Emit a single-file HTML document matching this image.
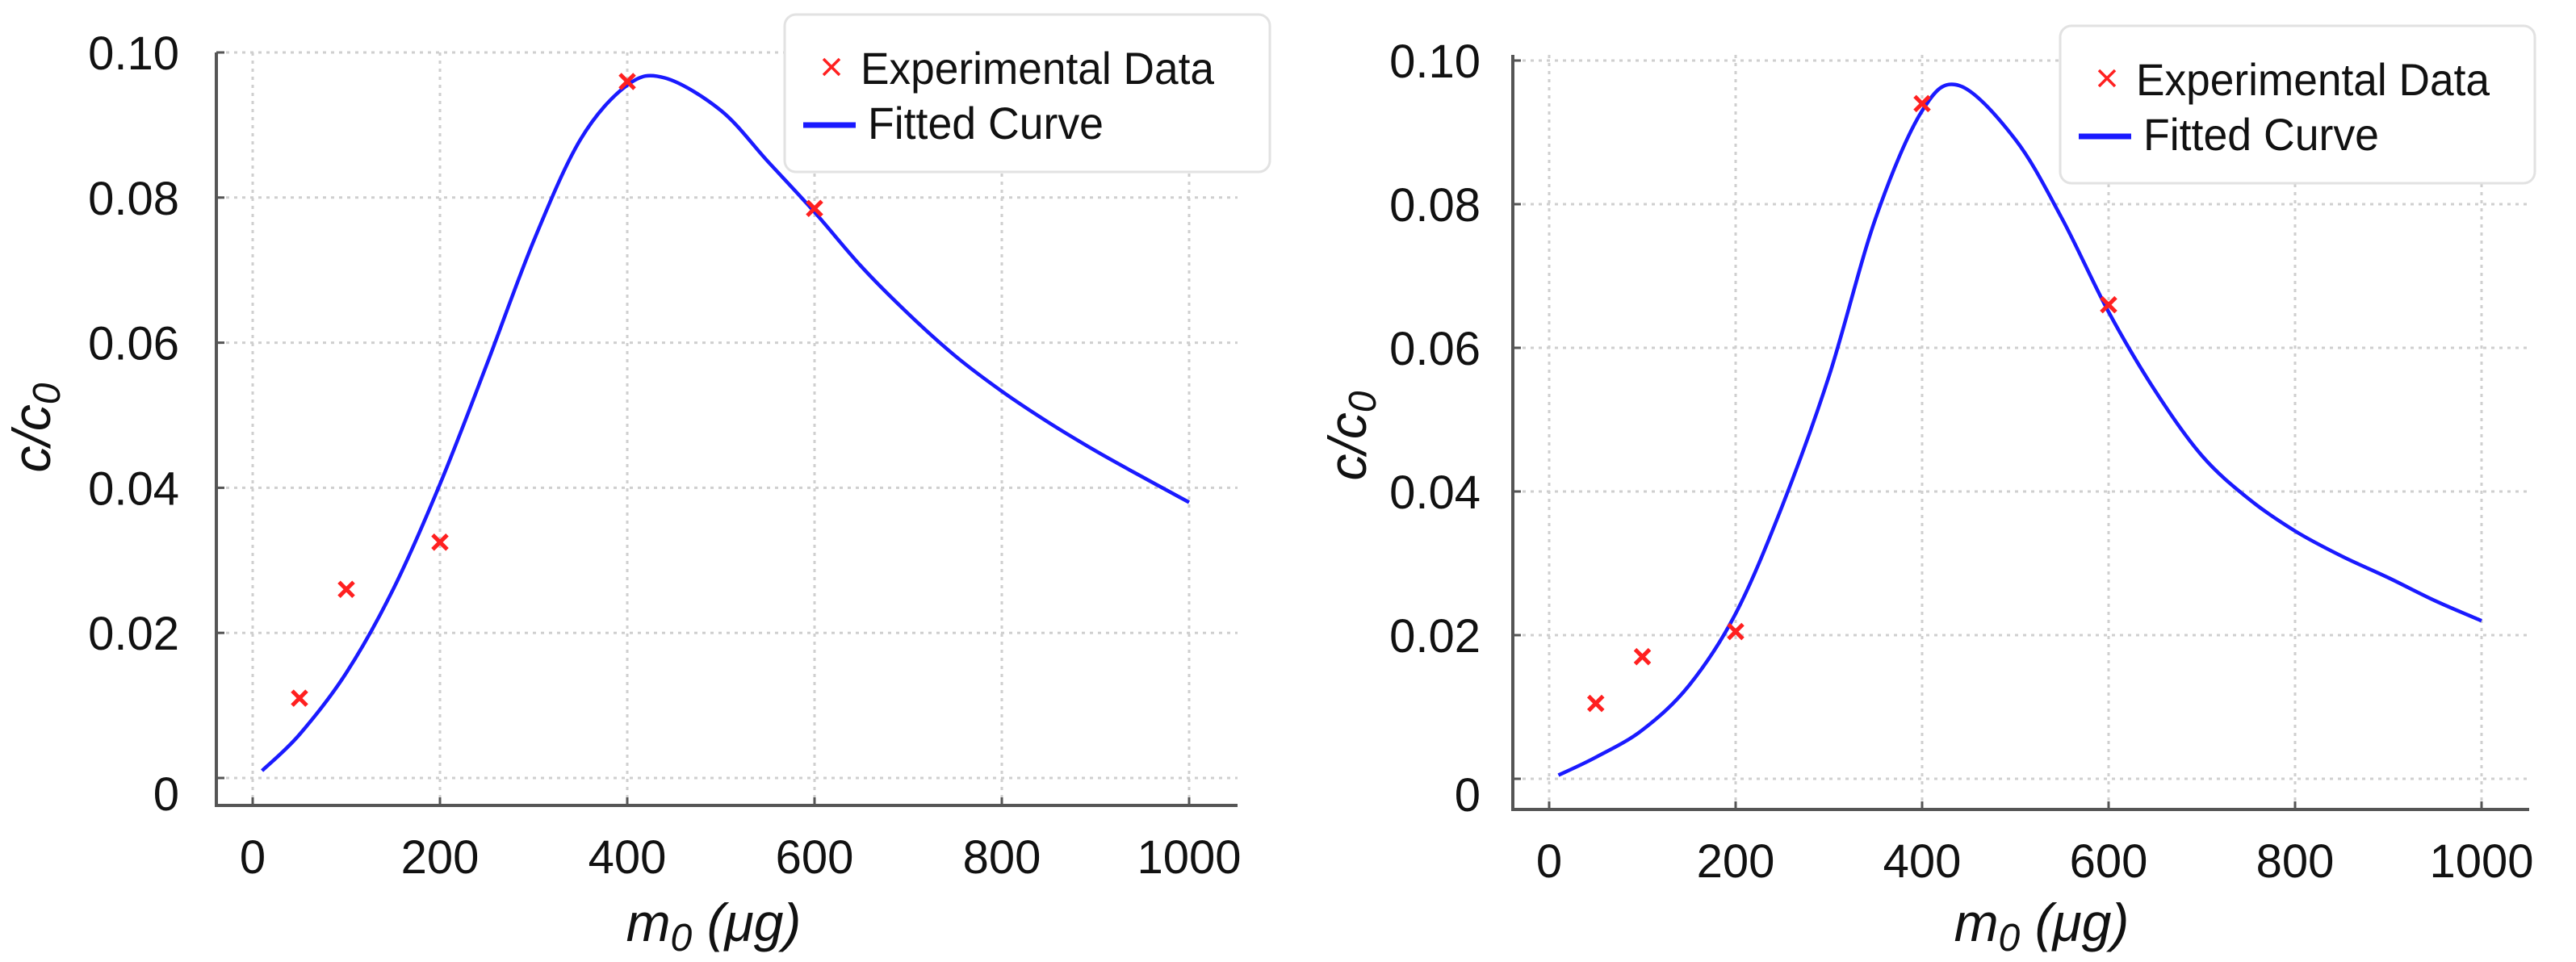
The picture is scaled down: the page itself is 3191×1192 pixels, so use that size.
<!DOCTYPE html>
<html><head><meta charset="utf-8"><style>
html,body{margin:0;padding:0;background:#fff;}
svg{display:block;}
text{font-family:"Liberation Sans",sans-serif;fill:#111;}
</style></head><body>
<svg id="chart" width="3191" height="1192" viewBox="0 0 3191 1192" xmlns="http://www.w3.org/2000/svg">
<g id="left"></g>
<g id="right"></g>
</svg>
<script>
// ----- data -----
const xTicks = [0, 200, 400, 600, 800, 1000];
const yTicks = [0, 0.02, 0.04, 0.06, 0.08, 0.10];
const yTickLabels = ["0", "0.02", "0.04", "0.06", "0.08", "0.10"];
const expX = [50, 100, 200, 400, 600];
const leftExpY = [0.011, 0.026, 0.0325, 0.096, 0.0785];
const rightExpY = [0.0105, 0.017, 0.0205, 0.094, 0.066];
const curveX = [10, 50, 100, 150, 200, 250, 300, 350, 400, 440, 500, 550, 600, 650, 700, 750, 800, 850, 900, 950, 1000];
const leftCurveY = [0.001, 0.006, 0.0145, 0.026, 0.0405, 0.057, 0.074, 0.088, 0.0955, 0.0965, 0.092, 0.085, 0.078, 0.0705, 0.064, 0.0582, 0.0533, 0.049, 0.0451, 0.0415, 0.038];
const rightCurveY = [0.0005, 0.003, 0.0068, 0.013, 0.023, 0.038, 0.056, 0.078, 0.093, 0.0965, 0.089, 0.078, 0.065, 0.054, 0.045, 0.039, 0.0345, 0.031, 0.028, 0.0248, 0.022];

const NS = "http://www.w3.org/2000/svg";
function mk(parent, tag, attrs, txt) {
  const e = document.createElementNS(NS, tag);
  for (const k in attrs) e.setAttribute(k, attrs[k]);
  if (txt !== undefined) e.textContent = txt;
  parent.appendChild(e);
  return e;
}
function smoothPath(pts) {
  let d = "M" + pts[0][0].toFixed(1) + "," + pts[0][1].toFixed(1);
  for (let i = 0; i < pts.length - 1; i++) {
    const p0 = pts[Math.max(0, i - 1)], p1 = pts[i], p2 = pts[i + 1], p3 = pts[Math.min(pts.length - 1, i + 2)];
    const c1x = p1[0] + (p2[0] - p0[0]) / 6, c1y = p1[1] + (p2[1] - p0[1]) / 6;
    const c2x = p2[0] - (p3[0] - p1[0]) / 6, c2y = p2[1] - (p3[1] - p1[1]) / 6;
    d += ` C${c1x.toFixed(1)},${c1y.toFixed(1)} ${c2x.toFixed(1)},${c2y.toFixed(1)} ${p2[0].toFixed(1)},${p2[1].toFixed(1)}`;
  }
  return d;
}

function panel(g, L, expY, curveY) {
  const sx = v => L.x0 + (v - 0) / 1000 * (L.x1000 - L.x0);
  const sy = v => L.y0 + v / 0.1 * (L.y10 - L.y0);
  xTicks.forEach(t => {
    const l = mk(g, "line", {x1: sx(t), x2: sx(t), y1: L.top, y2: L.bottom - 2, stroke: "#cfcfcf", "stroke-width": 3, "stroke-dasharray": "4 6"});
    
    
  });
  yTicks.forEach(t => {
    const l = mk(g, "line", {x1: L.left + 2, x2: L.right, y1: sy(t), y2: sy(t), stroke: "#cfcfcf", "stroke-width": 3, "stroke-dasharray": "4 6"});
    
    
  });
  const ya = mk(g, "line", {x1: L.left, x2: L.left, y1: L.top, y2: L.bottom, stroke: "#555", "stroke-width": 4});
  
  
  const xa = mk(g, "line", {x1: L.left - 2, x2: L.right, y1: L.bottom, y2: L.bottom, stroke: "#555", "stroke-width": 4});
  
  
  xTicks.forEach(t => {
    mk(g, "line", {x1: sx(t), x2: sx(t), y1: L.bottom, y2: L.bottom - 10, stroke: "#555", "stroke-width": 3});
    const tx = mk(g, "text", {x: sx(t), y: L.bottom + 84, "font-size": 58, "text-anchor": "middle"}, String(t));
    
    
  });
  yTicks.forEach((t, i) => {
    mk(g, "line", {x1: L.left, x2: L.left + 10, y1: sy(t), y2: sy(t), stroke: "#555", "stroke-width": 3});
    const ty = i === 0 ? sy(t) + 40 : sy(t) + 21;
    const tx = mk(g, "text", {x: L.ylabX, y: ty, "font-size": 58, "text-anchor": "end"}, yTickLabels[i]);
    
    
  });
  const yt = mk(g, "text", {x: 0, y: 0, "font-size": 66, "font-style": "italic", "text-anchor": "middle", transform: `translate(${L.ytX},${L.ytY}) rotate(-90)`});
  yt.innerHTML = 'c/c<tspan font-size="48" dy="12">0</tspan>';
  
  
  const xt = mk(g, "text", {x: L.xtX, y: 1166, "font-size": 66, "font-style": "italic", "text-anchor": "middle"});
  xt.innerHTML = 'm<tspan font-size="48" dy="12">0</tspan><tspan dy="-12"> (μg)</tspan>';
  
  
  const pts = curveX.map((x, i) => [sx(x), sy(curveY[i])]);
  const p = mk(g, "path", {d: smoothPath(pts), fill: "none", stroke: "#1a1aff", "stroke-width": 4.5, "stroke-linejoin": "round"});
  
  
  expX.forEach((x, i) => {
    const cx = sx(x), cy = sy(expY[i]), s = 9;
    const pt = mk(g, "path", {d: `M${cx - s},${cy - s}L${cx + s},${cy + s}M${cx - s},${cy + s}L${cx + s},${cy - s}`, stroke: "#ff2020", "stroke-width": 5});
    
    
  });
  const lg = mk(g, "g", {});
  
  
  mk(lg, "rect", {x: L.lgX, y: L.lgY, width: L.lgW, height: 195, rx: 14, fill: "#fff", stroke: "#e2e2e2", "stroke-width": 3});
  const mx = L.lgX + 58, my = L.lgY + 65;
  mk(lg, "path", {d: `M${mx - 10},${my - 10}L${mx + 10},${my + 10}M${mx - 10},${my + 10}L${mx + 10},${my - 10}`, stroke: "#ff2020", "stroke-width": 3.5});
  const t1 = mk(lg, "text", {x: L.lgX + 94, y: L.lgY + 86, "font-size": 56, textLength: 438, lengthAdjust: "spacingAndGlyphs", fill: "#222"}, "Experimental Data");
  
  
  mk(lg, "line", {x1: L.lgX + 23, x2: L.lgX + 88, y1: L.lgY + 137, y2: L.lgY + 137, stroke: "#1a1aff", "stroke-width": 7});
  const t2 = mk(lg, "text", {x: L.lgX + 103, y: L.lgY + 154, "font-size": 56, textLength: 292, lengthAdjust: "spacingAndGlyphs", fill: "#222"}, "Fitted Curve");
  
  
}

panel(document.getElementById("left"),
  {x0: 313, x1000: 1473, y0: 964, y10: 65, left: 268, right: 1533, top: 65, bottom: 998,
   ylabX: 222, ytX: 62, ytY: 530, xtX: 884, lgX: 972, lgY: 18, lgW: 601},
  leftExpY, leftCurveY);
panel(document.getElementById("right"),
  {x0: 1919, x1000: 3074, y0: 965, y10: 75, left: 1874, right: 3133, top: 68, bottom: 1003,
   ylabX: 1834, ytX: 1692, ytY: 540, xtX: 2529, lgX: 2552, lgY: 32, lgW: 588},
  rightExpY, rightCurveY);
</script>
</body></html>
